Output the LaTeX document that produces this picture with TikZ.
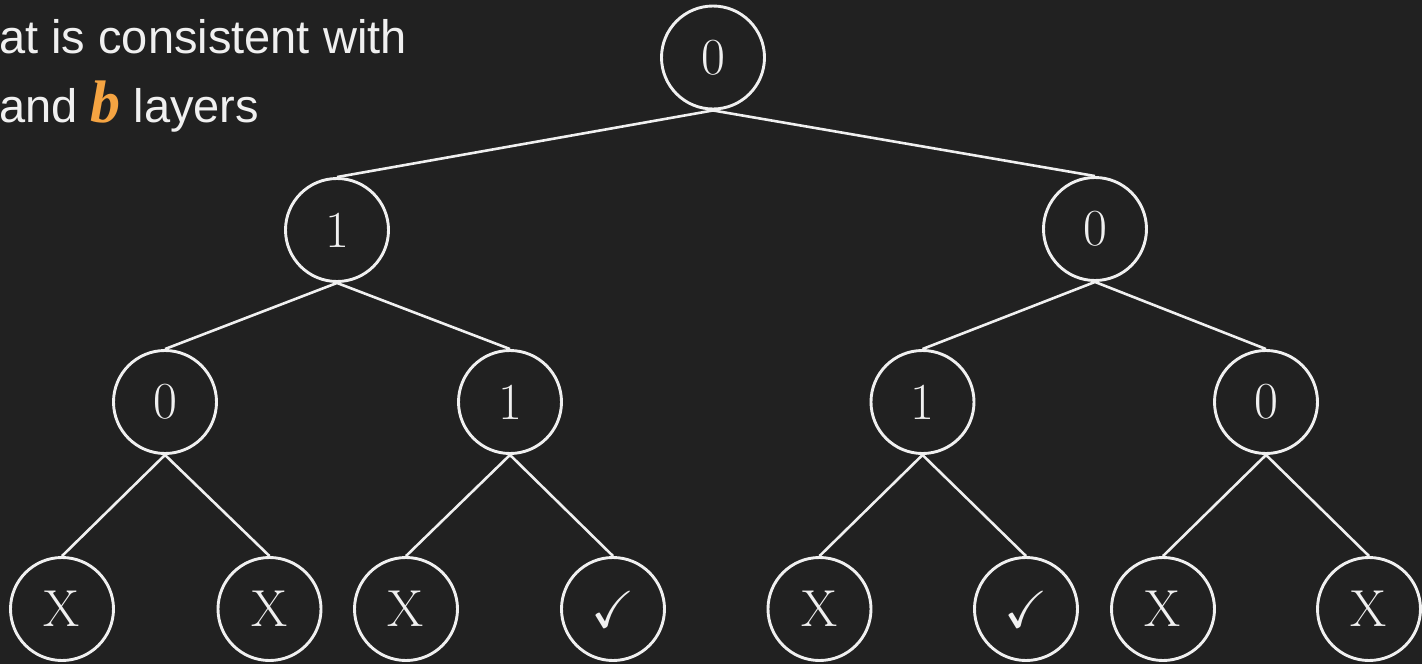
\documentclass[tikz,border=0pt]{standalone}
\usepackage{amssymb}
\usepackage{fontspec}
\newfontfamily\slidesans{Liberation Sans}
\newfontfamily\slideserif{Liberation Serif}
\definecolor{slidebg}{RGB}{33,33,33}
\definecolor{inkwhite}{RGB}{240,240,240}
\definecolor{accent}{RGB}{245,164,66}
\begin{document}
\begin{tikzpicture}[x=1pt,y=-1pt,
  state/.style={circle,draw=inkwhite,line width=2.9pt,minimum size=103pt,inner sep=0pt,
    text=inkwhite,font=\fontsize{52}{58}\selectfont},
  branch/.style={draw=inkwhite,line width=2.6pt},
  caption/.style={anchor=base west,inner sep=0pt,text=inkwhite,
    font=\slidesans\fontsize{47}{52}\selectfont}]
  % background and page size
  \fill[slidebg] (0,0) rectangle (1422,664);
  \useasboundingbox (0,0) rectangle (1422,664);

  % caption text
  \node[caption] (cap1) at (-1,53) {at is consistent with};
  \node[caption] (cap2) at (-1,122) {and {\slideserif\bfseries\itshape\fontsize{60}{64}\selectfont\color{accent}b} layers};

  % tree nodes
  \node[state] (r)   at (713,57.5) {0};
  \node[state] (a)   at (337,230) {1};
  \node[state] (b)   at (1095,229) {0};
  \node[state] (aa)  at (165,402) {0};
  \node[state] (ab)  at (510,402) {1};
  \node[state] (ba)  at (922.5,402) {1};
  \node[state] (bb)  at (1266,402) {0};
  \node[state] (aaa) at (62,609) {X};
  \node[state] (aab) at (269.5,609) {X};
  \node[state] (aba) at (406,609) {X};
  \node[state] (abb) at (613,609) {$\checkmark$};
  \node[state] (baa) at (819.5,609) {X};
  \node[state] (bab) at (1026,609) {$\checkmark$};
  \node[state] (bba) at (1163,609) {X};
  \node[state] (bbb) at (1369,609) {X};

  % branches: parent bottom to child top
  \foreach \p/\c in {r/a, r/b, a/aa, a/ab, b/ba, b/bb,
                     aa/aaa, aa/aab, ab/aba, ab/abb, ba/baa, ba/bab, bb/bba, bb/bbb}
    \draw[branch] (\p.south) -- (\c.north);
\end{tikzpicture}
\end{document}
